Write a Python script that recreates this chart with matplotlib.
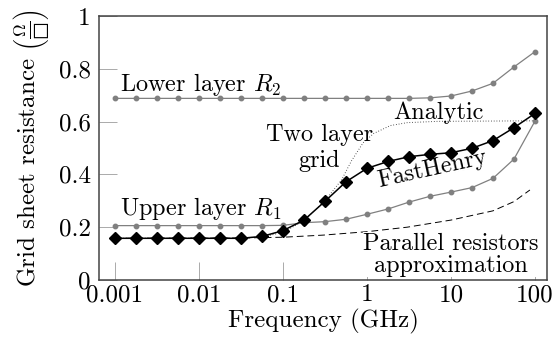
import numpy as np
import matplotlib
matplotlib.use("Agg")
import matplotlib.pyplot as plt

plt.rcParams['font.family'] = 'serif'
plt.rcParams['font.serif'] = ['cmr10']
plt.rcParams['mathtext.fontset'] = 'cm'
plt.rcParams['axes.formatter.use_mathtext'] = True

# frequency samples, quarter decade steps (GHz)
freq = [0.001, 0.00178, 0.00316, 0.00562, 0.01, 0.0178, 0.0316, 0.0562,
        0.1, 0.178, 0.316, 0.562, 1.0, 1.78, 3.16, 5.62, 10.0, 17.8, 31.6, 56.2, 100.0]

r2_lower = [0.688, 0.688, 0.688, 0.688, 0.688, 0.688, 0.688, 0.688, 0.688, 0.688,
            0.688, 0.688, 0.688, 0.688, 0.688, 0.690, 0.697, 0.716, 0.745, 0.807, 0.865]
r1_upper = [0.206, 0.206, 0.206, 0.206, 0.206, 0.206, 0.206, 0.206, 0.207, 0.217,
            0.221, 0.230, 0.249, 0.269, 0.295, 0.317, 0.333, 0.350, 0.385, 0.458, 0.602]
fasthenry = [0.158, 0.158, 0.158, 0.158, 0.158, 0.158, 0.158, 0.165, 0.187, 0.227,
             0.298, 0.372, 0.423, 0.449, 0.467, 0.476, 0.482, 0.499, 0.528, 0.577, 0.631]

analytic_f = [0.001, 0.03, 0.056, 0.1, 0.178, 0.316, 0.5, 0.65, 0.9, 1.2, 1.9, 3.0, 7.0, 100.0]
analytic = [0.158, 0.159, 0.163, 0.180, 0.225, 0.300, 0.380, 0.450, 0.520, 0.555,
            0.585, 0.596, 0.601, 0.603]

parallel_f = [0.001, 0.03, 0.1, 0.3, 1.0, 3.0, 10.0, 31.6, 56.2, 87.0]
parallel = [0.158, 0.159, 0.162, 0.170, 0.183, 0.200, 0.227, 0.262, 0.297, 0.341]

xticks = [0.001, 0.01, 0.1, 1, 10, 100]
xtick_labels = ['0.001', '0.01', '0.1', '1', '10', '100']
yticks = [0, 0.2, 0.4, 0.6, 0.8, 1]
ytick_labels = ['0', '0.2', '0.4', '0.6', '0.8', '1']

fig = plt.figure(figsize=(5.55, 3.48), dpi=100)
ax = fig.add_axes([0.1784, 0.1954, 0.8072, 0.7586])

grey = '#808080'
ax.plot(freq, r2_lower, color=grey, lw=0.9, marker='o', ms=3.2, zorder=3)
ax.plot(freq, r1_upper, color=grey, lw=0.9, marker='o', ms=3.2, zorder=3)
ax.plot(parallel_f, parallel, color='black', lw=0.7, ls=(0, (7, 4)), zorder=2)
ax.plot(analytic_f, analytic, color='#333333', lw=0.7, ls=(0, (0.8, 2)), zorder=2)
ax.plot(freq, fasthenry, color='black', lw=1.1, marker='D', ms=5.8, zorder=4)

ax.set_xscale('log')
ax.set_xlim(10 ** -3.19, 10 ** 2.143)
ax.set_ylim(0, 1)
ax.set_xticks(xticks)
ax.set_xticklabels(xtick_labels)
ax.set_yticks(yticks)
ax.set_yticklabels(ytick_labels)
ax.minorticks_off()
ax.tick_params(direction='in', length=13, width=0.7, color='#aaaaaa',
               labelsize=18, pad=3)
ax.tick_params(axis='y', pad=6)
for s in ax.spines.values():
    s.set_color('#444444')
    s.set_linewidth(1.1)

ax.set_xlabel('Frequency (GHz)', fontsize=18, labelpad=2)
ax.set_ylabel('Grid sheet resistance $\\left(\\frac{\\Omega}{\u25a1}\\right)$', fontsize=18, labelpad=5)

fs = 17.5
ax.text(0.00115, 0.74, r'Lower layer $R_2$', fontsize=fs, va='center', ha='left')
ax.text(0.00115, 0.27, r'Upper layer $R_1$', fontsize=fs, va='center', ha='left')
ax.text(0.27, 0.50, 'Two layer\ngrid', fontsize=fs, ha='center', va='center', linespacing=1.25)
ax.text(7.0, 0.635, 'Analytic', fontsize=fs, ha='center', va='center')
ax.text(6.0, 0.42, 'FastHenry', fontsize=fs, ha='center', va='center', rotation=12.5)
ax.text(10.0, 0.095, 'Parallel resistors\napproximation', fontsize=fs, ha='center',
        va='center', linespacing=0.95,
        bbox=dict(facecolor='white', edgecolor='none', pad=0.5), zorder=5)

fig.savefig('out.png', dpi=100)
